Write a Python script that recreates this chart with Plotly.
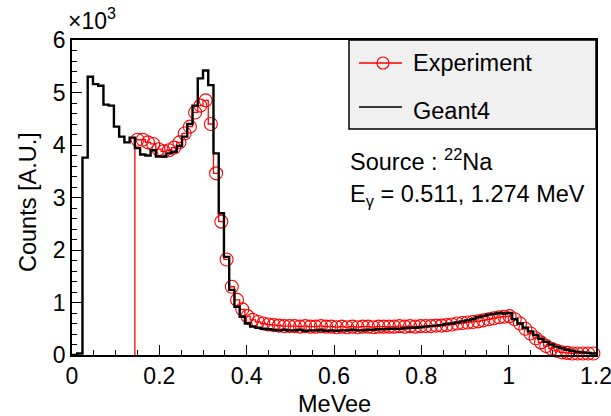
import numpy as np
import plotly.graph_objects as go

# ---------------- data (values in units of 10^3 counts) ----------------
BIN_LO = 0.0
BIN_W = 0.012
N_BINS = 100

geant4 = [
    0.00, 0.03, 3.76, 5.30, 5.16, 5.13, 4.77, 4.75, 4.35, 4.16,   # 0-9
    4.05, 4.14, 3.94, 3.82, 3.80, 3.90, 3.78, 3.78, 3.84, 3.87,   # 10-19
    3.98, 4.16, 4.40, 4.75, 5.27, 5.42, 5.14, 3.84, 2.70, 1.87,   # 20-29
    1.24, 0.92, 0.73, 0.60, 0.54, 0.52, 0.50, 0.49, 0.48, 0.47,   # 30-39
    0.48, 0.47, 0.47, 0.48, 0.46, 0.47, 0.47, 0.48, 0.46, 0.47,   # 40-49
    0.46, 0.47, 0.47, 0.48, 0.47, 0.47, 0.48, 0.48, 0.49, 0.49,   # 50-59
    0.50, 0.50, 0.50, 0.51, 0.52, 0.52, 0.53, 0.54, 0.55, 0.56,   # 60-69
    0.57, 0.59, 0.60, 0.62, 0.64, 0.66, 0.68, 0.72, 0.74, 0.77,   # 70-79
    0.78, 0.80, 0.79, 0.80, 0.68, 0.60, 0.52, 0.45, 0.38, 0.31,   # 80-89
    0.25, 0.20, 0.16, 0.13, 0.10, 0.08, 0.06, 0.05, 0.04, 0.03,   # 90-99
]

EXP_FIRST_BIN = 12
experiment = [
    4.10, 4.10, 4.05, 4.02, 3.92, 3.88, 3.90, 3.95,               # 12-19
    4.05, 4.22, 4.35, 4.62, 4.75, 4.85, 4.40, 3.46, 2.54, 1.82,   # 20-29
    1.30, 1.05, 0.87, 0.74, 0.67, 0.63, 0.60, 0.58, 0.57, 0.56,   # 30-39
    0.55, 0.55, 0.55, 0.54, 0.55, 0.54, 0.54, 0.55, 0.54, 0.54,   # 40-49
    0.53, 0.54, 0.53, 0.54, 0.53, 0.54, 0.54, 0.53, 0.54, 0.54,   # 50-59
    0.54, 0.54, 0.55, 0.54, 0.55, 0.54, 0.55, 0.55, 0.55, 0.56,   # 60-69
    0.56, 0.57, 0.58, 0.60, 0.61, 0.62, 0.63, 0.64, 0.66, 0.68,   # 70-79
    0.70, 0.72, 0.73, 0.74, 0.68, 0.60, 0.50, 0.41, 0.32, 0.24,   # 80-89
    0.17, 0.12, 0.08, 0.05, 0.04, 0.03, 0.03, 0.03, 0.03, 0.03,   # 90-99
]

x_ticks = [0, 0.2, 0.4, 0.6, 0.8, 1.0, 1.2]
x_tick_labels = ["0", "0.2", "0.4", "0.6", "0.8", "1", "1.2"]
y_ticks = [0, 1, 2, 3, 4, 5, 6]
y_tick_labels = ["0", "1", "2", "3", "4", "5", "6"]

legend_labels = ["Experiment", "Geant4"]
info_lines = ["Source : <sup>22</sup>Na", "E<sub>γ</sub> = 0.511, 1.274 MeV"]
x_title = "MeVee"
y_title = "Counts [A.U.]"
exp_label = "×10<sup>3</sup>"

# ---------------- geometry helpers ----------------
W, H = 611, 416
L, R, T, B = 72, 15, 40, 61
PW, PH = W - L - R, H - T - B


def px(x):
    return (x - L) / PW


def py(y):
    return (H - B - y) / PH


FONT = "Liberation Sans, Arial, Helvetica, sans-serif"
TXT = 23.5
TICK = 23

# ---------------- traces ----------------
edges = BIN_LO + BIN_W * np.arange(N_BINS + 1)

# Geant4 step histogram
g_x = list(edges[:-1]) + [edges[-1]]
g_y = list(geant4) + [geant4[-1]]

# Experiment step histogram (starts from the axis at its first bin edge)
e_edges = edges[EXP_FIRST_BIN:]
e_x = [e_edges[0]] + list(e_edges[:-1]) + [e_edges[-1]]
e_y = [0.0] + list(experiment) + [experiment[-1]]
e_centers = e_edges[:-1] + BIN_W / 2

fig = go.Figure()
fig.add_trace(go.Scatter(x=e_x, y=e_y, mode="lines", line=dict(color="#ff0000", width=1.3, shape="hv"),
                         showlegend=False, hoverinfo="skip"))
fig.add_trace(go.Scatter(x=e_centers, y=experiment, mode="markers",
                         marker=dict(symbol="circle-open", size=13, color="#ff0000", line=dict(width=1.1)),
                         showlegend=False, name=legend_labels[0], cliponaxis=False))
fig.add_trace(go.Scatter(x=g_x, y=g_y, mode="lines", line=dict(color="#000000", width=2.4, shape="hv"),
                         showlegend=False, name=legend_labels[1]))

# ---------------- legend box (drawn manually, ROOT style) ----------------
shapes = [
    dict(type="rect", xref="paper", yref="paper", x0=px(349), x1=1.0, y0=py(129), y1=1.0,
         fillcolor="#f0f0f0", line=dict(color="#000000", width=1.5), layer="above"),
    dict(type="line", xref="paper", yref="paper", x0=px(359), x1=px(402), y0=py(63), y1=py(63),
         line=dict(color="#ff0000", width=1.3), layer="above"),
    dict(type="circle", xref="paper", yref="paper", x0=px(377), x1=px(389), y0=py(69), y1=py(57),
         line=dict(color="#ff0000", width=1.1), fillcolor="rgba(0,0,0,0)", layer="above"),
    dict(type="line", xref="paper", yref="paper", x0=px(359), x1=px(402), y0=py(107), y1=py(107),
         line=dict(color="#000000", width=1.5), layer="above"),
]

annotations = [
    dict(text=legend_labels[0], x=px(411), y=py(63), xref="paper", yref="paper", xanchor="left",
         yanchor="middle", showarrow=False, font=dict(size=TXT, color="#000", family=FONT)),
    dict(text=legend_labels[1], x=px(411), y=py(111), xref="paper", yref="paper", xanchor="left",
         yanchor="middle", showarrow=False, font=dict(size=TXT, color="#000", family=FONT)),
    dict(text=info_lines[0], x=px(348), y=py(160), xref="paper", yref="paper", xanchor="left",
         yanchor="middle", showarrow=False, font=dict(size=TXT, color="#000", family=FONT)),
    dict(text=info_lines[1], x=px(348), y=py(195), xref="paper", yref="paper", xanchor="left",
         yanchor="middle", showarrow=False, font=dict(size=TXT, color="#000", family=FONT)),
    dict(text=exp_label, x=px(66), y=py(36), xref="paper", yref="paper", xanchor="left",
         yanchor="bottom", showarrow=False, font=dict(size=23, color="#000", family=FONT)),
    dict(text=x_title, x=0.5, y=py(404), xref="paper", yref="paper", xanchor="center",
         yanchor="middle", showarrow=False, font=dict(size=TXT, color="#000", family=FONT)),
    dict(text=y_title, x=px(28), y=py(202), xref="paper", yref="paper", xanchor="center",
         yanchor="middle", showarrow=False, textangle=-90, font=dict(size=TXT, color="#000", family=FONT)),
]

axis_common = dict(showline=True, linecolor="#000", linewidth=1.5, mirror=True, showgrid=False,
                   zeroline=False, ticks="inside", tickcolor="#000", tickwidth=1.3,
                   ticklabeloverflow="allow", automargin=False,
                   tickfont=dict(size=TICK, color="#000", family=FONT))

fig.update_layout(
    width=W, height=H,
    margin=dict(l=L, r=R, t=T, b=B, autoexpand=False),
    paper_bgcolor="white", plot_bgcolor="white",
    xaxis=dict(range=[0, 1.2], tickvals=x_ticks, ticktext=x_tick_labels, ticklen=10,
               minor=dict(ticks="inside", ticklen=5, dtick=0.05, tick0=0, tickcolor="#000", tickwidth=1.3),
               **axis_common),
    yaxis=dict(range=[0, 6], tickvals=y_ticks, ticktext=y_tick_labels, ticklen=10,
               minor=dict(ticks="inside", ticklen=5, dtick=0.2, tick0=0, tickcolor="#000", tickwidth=1.3),
               **axis_common),
    shapes=shapes,
    annotations=annotations,
    showlegend=False,
)

fig.write_html("out.html", config={"displayModeBar": False},
               post_script="document.body.style.margin='0px';document.body.style.overflow='hidden';")
